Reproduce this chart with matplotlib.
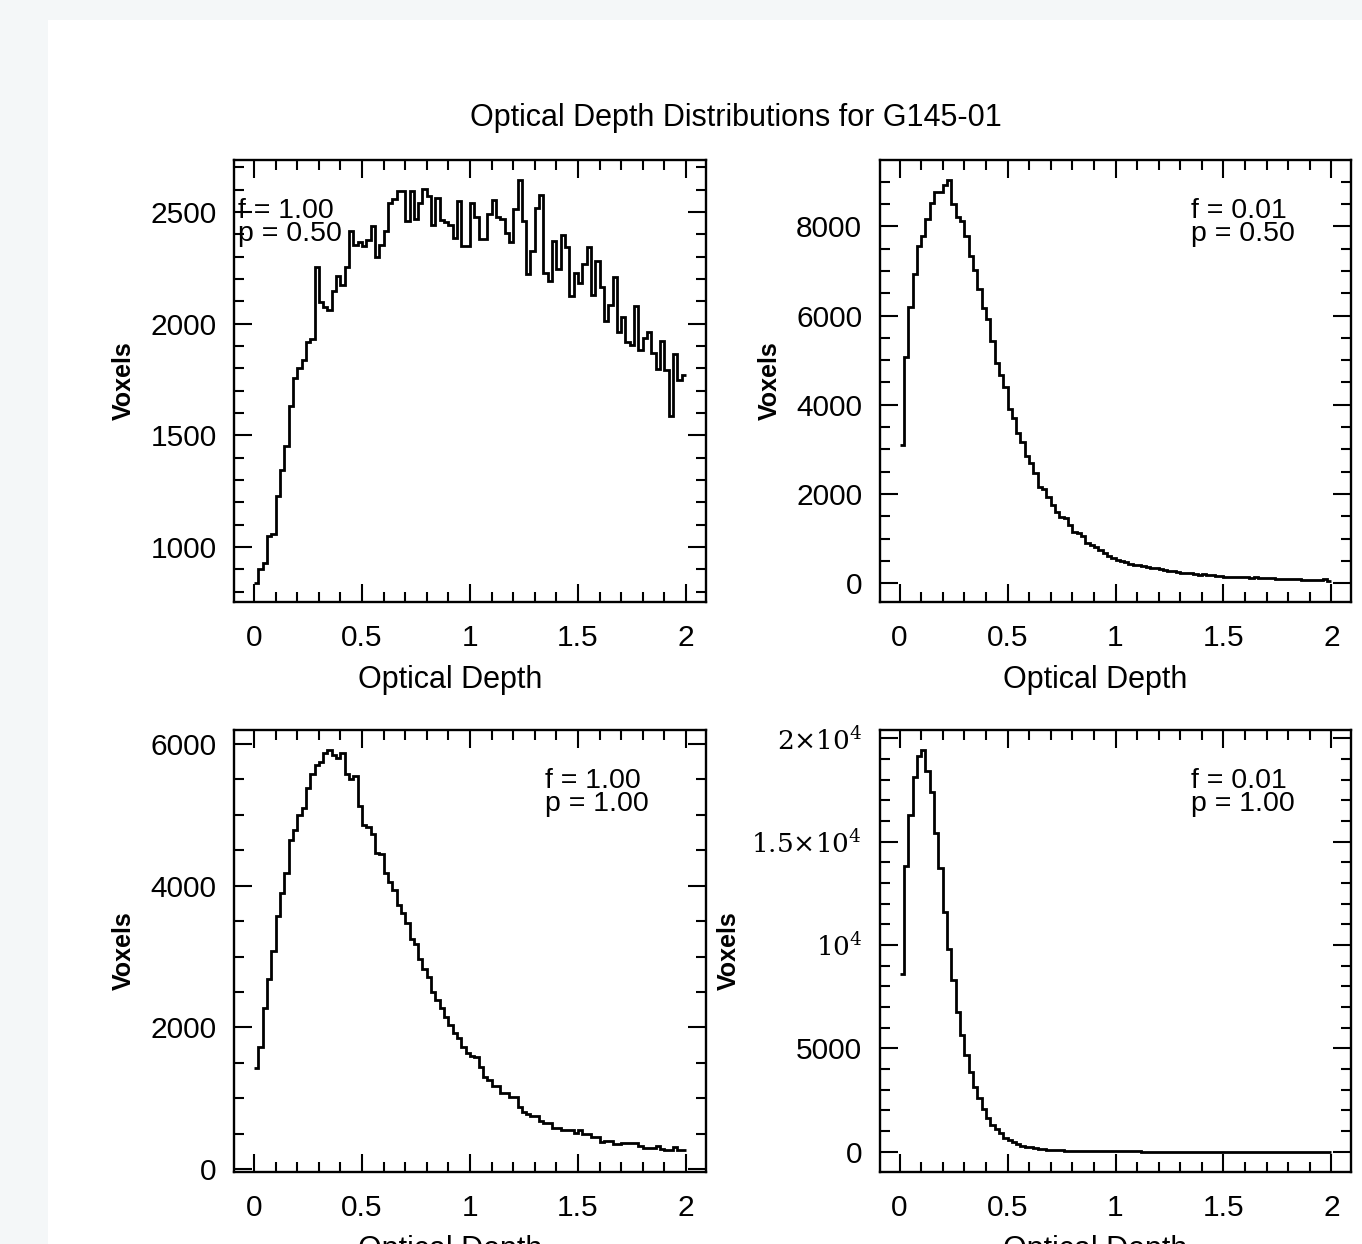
"""
Optical depth histograms for G145-01 (four f / p combinations).
"""

import numpy as np
import matplotlib.pyplot as plt
from matplotlib.patches import Rectangle
from matplotlib.ticker import MultipleLocator


# %%
# Histogram counts, 100 bins of width 0.02 from 0 to 2
bin_edges = np.linspace(0.0, 2.0, 101)

counts_f100_p050 = [
    841, 900, 930, 1049, 1060, 1228, 1347, 1452, 1630, 1757,
    1802, 1836, 1917, 1931, 2256, 2095, 2077, 2063, 2145, 2212,
    2174, 2256, 2413, 2353, 2368, 2346, 2375, 2438, 2298, 2353,
    2413, 2542, 2557, 2592, 2592, 2462, 2592, 2468, 2540, 2602,
    2572, 2440, 2562, 2465, 2457, 2440, 2383, 2551, 2346, 2348,
    2542, 2479, 2378, 2378, 2490, 2554, 2479, 2467, 2408, 2367,
    2512, 2643, 2461, 2223, 2327, 2516, 2575, 2226, 2193, 2370,
    2244, 2397, 2345, 2124, 2226, 2181, 2266, 2342, 2130, 2282,
    2163, 2010, 2084, 2211, 1965, 2032, 1920, 1905, 2080, 1883,
    1935, 1965, 1871, 1797, 1923, 1794, 1588, 1864, 1746, 1771,
]

counts_f001_p050 = [
    3097, 5075, 6194, 6925, 7552, 7784, 8157, 8530, 8761, 8761,
    8920, 9030, 8508, 8209, 8120, 7784, 7329, 7030, 6605, 6179,
    5933, 5426, 4941, 4664, 4403, 3896, 3694, 3358, 3172, 2851,
    2687, 2478, 2164, 2105, 1940, 1754, 1605, 1493, 1455, 1306,
    1157, 1119, 1060, 896, 858, 821, 746, 687, 612, 560,
    530, 500, 470, 440, 420, 400, 380, 370, 350, 340,
    320, 290, 270, 265, 250, 240, 235, 220, 210, 195,
    205, 180, 175, 165, 170, 150, 150, 145, 140, 150,
    130, 125, 130, 120, 115, 110, 125, 105, 100, 95,
    90, 95, 85, 80, 75, 80, 75, 70, 100, 60,
]

counts_f100_p100 = [
    1421, 1727, 2278, 2678, 3082, 3572, 3901, 4174, 4645, 4786,
    4998, 5101, 5374, 5577, 5704, 5751, 5868, 5915, 5845, 5798,
    5878, 5577, 5501, 5548, 5125, 4857, 4824, 4729, 4466, 4447,
    4174, 4057, 3939, 3727, 3609, 3468, 3242, 3176, 2960, 2819,
    2706, 2504, 2386, 2268, 2151, 2033, 1915, 1845, 1727, 1633,
    1600, 1576, 1445, 1304, 1257, 1172, 1172, 1068, 1068, 1021,
    1021, 871, 809, 776, 753, 753, 683, 645, 645, 574,
    574, 551, 551, 551, 513, 551, 490, 490, 457, 457,
    386, 400, 400, 353, 353, 363, 363, 363, 363, 325,
    292, 292, 292, 325, 278, 268, 268, 306, 268, 268,
]

counts_f001_p100 = [
    8581, 13823, 16291, 18146, 19162, 19437, 18437, 17420, 15404, 13711,
    11614, 9807, 8307, 6742, 5646, 4678, 3871, 3145, 2581, 2049,
    1613, 1290, 1081, 887, 645, 565, 452, 355, 290, 242,
    210, 161, 129, 113, 97, 80, 65, 65, 48, 48,
    40, 36, 32, 28, 25, 22, 20, 18, 16, 15,
    14, 13, 12, 11, 10, 10, 9, 9, 8, 8,
    7, 7, 6, 6, 6, 5, 5, 5, 5, 4,
    4, 4, 4, 3, 3, 3, 3, 3, 3, 2,
    2, 2, 2, 2, 2, 2, 2, 1, 1, 1,
    1, 1, 1, 1, 1, 1, 1, 1, 1, 1,
]

f_labels = ['f = 1.00', 'f = 0.01', 'f = 1.00', 'f = 0.01']
p_labels = ['p = 0.50', 'p = 0.50', 'p = 1.00', 'p = 1.00']

br_yticks = [0, 5000, 10000, 15000, 20000]
br_yticklabels = ['0', '5000', r'$10^4$', r'$1.5{\times}10^4$', r'$2{\times}10^4$']

W, H = 1362, 1244


def fig_xy(x, y):
    """Pixel position (from top left) to figure fraction."""
    return x / W, 1 - y / H


def style_axes(ax, ymajor, yminor):
    ax.set_xlim(-0.093, 2.093)
    ax.xaxis.set_major_locator(MultipleLocator(0.5))
    ax.xaxis.set_minor_locator(MultipleLocator(0.1))
    ax.yaxis.set_major_locator(MultipleLocator(ymajor))
    ax.yaxis.set_minor_locator(MultipleLocator(yminor))
    ax.tick_params(which='both', direction='in', top=True, right=True,
                   width=1.5, labelsize=21.5)
    ax.tick_params(axis='x', pad=15.5)
    ax.tick_params(axis='y', pad=12.5)
    ax.tick_params(which='major', length=13)
    ax.tick_params(which='minor', length=7)
    ax.set_xticks([0, 0.5, 1, 1.5, 2], ['0', '0.5', '1', '1.5', '2'])
    for s in ax.spines.values():
        s.set_linewidth(1.7)


def main():
    plt.rcParams['font.family'] = ['Liberation Sans', 'DejaVu Sans']
    plt.rcParams['mathtext.fontset'] = 'dejavuserif'

    fig = plt.figure(figsize=(W / 100, H / 100), dpi=100, facecolor='#f4f7f8')
    fig.patches.append(Rectangle((48 / W, 0), 1 - 48 / W, 1 - 20 / H,
                                 transform=fig.transFigure, facecolor='white',
                                 edgecolor='none', zorder=-1))

    # (counts, box in px [left, top, right, bottom], ylim, major, minor, ylabel x, text x, text y)
    panels = [
        (counts_f100_p050, (234, 160, 706, 602), (754, 2733), 500, 100, -0.233, 238, 218),
        (counts_f001_p050, (879.5, 160, 1351.5, 602), (-420, 9485), 2000, 500, -0.233, 1191, 218),
        (counts_f100_p100, (234, 730, 706, 1172), (-42, 6198), 2000, 500, -0.233, 545, 788),
        (counts_f001_p100, (879.5, 730, 1351.5, 1172), (-983, 20411), 5000, 1000, -0.319, 1191, 788),
    ]

    for i, (counts, box, ylim, ymaj, ymin, ylab_x, tx, ty) in enumerate(panels):
        l, t, r, b = box
        ax = fig.add_axes([l / W, 1 - b / H, (r - l) / W, (b - t) / H])
        ax.stairs(counts, bin_edges, baseline=None, color='black', linewidth=2.0)
        ax.set_ylim(*ylim)
        style_axes(ax, ymaj, ymin)
        if i == 3:
            ax.set_yticks(br_yticks, br_yticklabels)
            for lab in ax.get_yticklabels()[2:]:
                lab.set_fontsize(19)

        ax.set_xlabel('Optical Depth', fontsize=22)
        ax.xaxis.set_label_coords(0.458, -0.177)
        ax.xaxis.label.set_va('center')
        ax.set_ylabel('Voxels', fontsize=18, fontweight='bold')
        ax.yaxis.set_label_coords(ylab_x, 0.5)
        ax.yaxis.label.set_va('center')

        fig.text(*fig_xy(tx, ty), f_labels[i], fontsize=20.5, va='baseline')
        fig.text(*fig_xy(tx, ty + 23), p_labels[i], fontsize=20.5, va='baseline')

    fig.text(*fig_xy(736, 118), 'Optical Depth Distributions for G145-01',
             fontsize=22, ha='center', va='center')

    fig.savefig('out.png', dpi=100, facecolor=fig.get_facecolor())


if __name__ == '__main__':
    main()
